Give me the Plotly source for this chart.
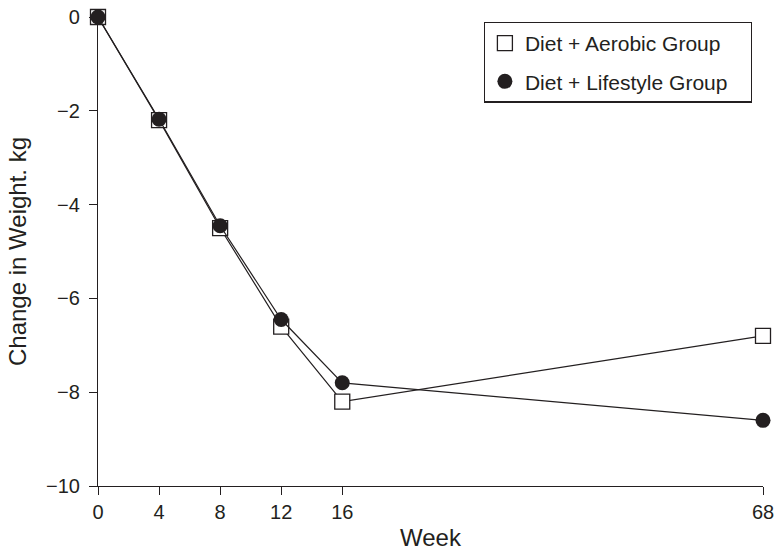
import plotly.graph_objects as go

# Study weeks and mean change in body weight (kg) for each group
weeks = [0, 4, 8, 12, 16, 68]
aerobic = [0.0, -2.2, -4.5, -6.6, -8.2, -6.8]
lifestyle = [0.0, -2.18, -4.45, -6.45, -7.8, -8.6]
tick_labels = ["0", "4", "8", "12", "16", "68"]

INK = "#231f20"
FONT = "Liberation Sans, Arial, sans-serif"
PAD = "\u00a0\u00a0\u00a0"  # right padding inside the legend box

# Follow-up period after week 16 is drawn on a compressed scale
BREAK_WEEK = 16
FOLLOWUP_SCALE = 0.53


def axis_pos(w):
    return w if w <= BREAK_WEEK else BREAK_WEEK + (w - BREAK_WEEK) * FOLLOWUP_SCALE


xpos = [axis_pos(w) for w in weeks]

fig = go.Figure()

# Connecting lines + markers (no legend)
fig.add_trace(go.Scatter(
    x=xpos, y=aerobic, mode="lines+markers", showlegend=False,
    line=dict(color=INK, width=1.2),
    marker=dict(symbol="square", size=15, color="white",
                line=dict(color=INK, width=1.3)),
    cliponaxis=False,
))
fig.add_trace(go.Scatter(
    x=xpos, y=lifestyle, mode="lines+markers", showlegend=False,
    line=dict(color=INK, width=1.2),
    marker=dict(symbol="circle", size=15, color=INK,
                line=dict(color=INK, width=0)),
    cliponaxis=False,
))

# Legend entries (markers only)
fig.add_trace(go.Scatter(
    x=[None], y=[None], mode="markers", name="Diet + Aerobic Group" + PAD,
    legendgroup="a",
    marker=dict(symbol="square", size=15, color="white",
                line=dict(color=INK, width=1.3)),
))
fig.add_trace(go.Scatter(
    x=[None], y=[None], mode="markers", name="Diet + Lifestyle Group" + PAD,
    legendgroup="b",
    marker=dict(symbol="circle", size=15, color=INK),
))

fig.update_layout(
    width=781, height=551,
    margin=dict(l=98, r=18, t=17, b=65),
    paper_bgcolor="white", plot_bgcolor="white",
    font=dict(family=FONT, size=20, color=INK),
    legend=dict(
        x=0.58, y=0.99, xanchor="left", yanchor="top",
        bordercolor=INK, borderwidth=1.2, bgcolor="white",
        font=dict(size=21), tracegroupgap=8,
        itemwidth=30,
    ),
    xaxis=dict(
        range=[0, axis_pos(68)], automargin=False,
        tickmode="array", tickvals=[axis_pos(w) for w in weeks], ticktext=tick_labels,
        ticks="outside", ticklen=8, tickwidth=1.2, tickcolor=INK,
        showline=True, linecolor=INK, linewidth=1.2,
        showgrid=False, zeroline=False,
        title=dict(text="Week", standoff=15),
        tickfont=dict(size=20),
    ),
    yaxis=dict(
        range=[-10, 0], automargin=False,
        tickmode="array", tickvals=[0, -2, -4, -6, -8, -10],
        ticktext=["0", "\u22122", "\u22124", "\u22126", "\u22128", "\u221210"],
        ticks="outside", ticklen=8, tickwidth=1.2, tickcolor=INK,
        ticklabelstandoff=5,
        showline=True, linecolor=INK, linewidth=1.2,
        showgrid=False, zeroline=False,
        title=dict(text="Change in Weight. kg", standoff=12),
        tickfont=dict(size=20),
    ),
)

fig.write_html("out.html")
